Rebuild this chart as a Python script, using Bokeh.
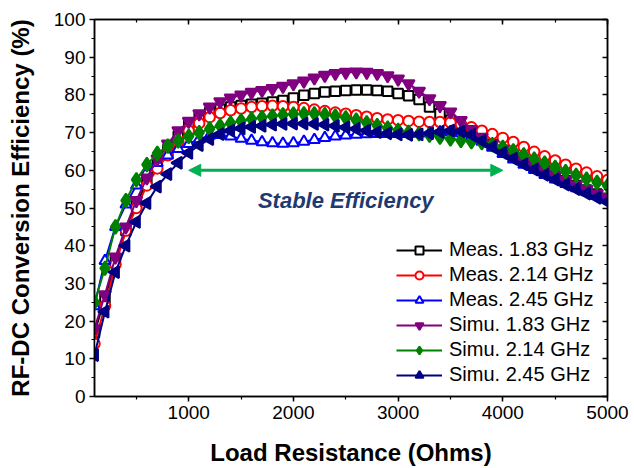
import math
from bokeh.plotting import figure
from bokeh.models import (LinearAxis, SingleIntervalTicker, Legend, LegendItem,
                          Arrow, NormalHead, Label, Range1d, CustomLabelingPolicy)
from bokeh.embed import file_html
from bokeh.resources import INLINE

# ---------------- data ----------------
load_ohm = [100, 200, 300, 400, 500, 600, 700, 800, 900, 1000,
            1100, 1200, 1300, 1400, 1500, 1600, 1700, 1800, 1900, 2000,
            2100, 2200, 2300, 2400, 2500, 2600, 2700, 2800, 2900, 3000,
            3100, 3200, 3300, 3400, 3500, 3600, 3700, 3800, 3900, 4000,
            4100, 4200, 4300, 4400, 4500, 4600, 4700, 4800, 4900, 5000]

meas_183 = [17, 26, 36, 44, 51, 57, 61.5, 65.5, 69, 72,
            74, 75.3, 76.2, 76.8, 77.2, 77.5, 77.8, 78.1, 78.5, 79.2,
            79.9, 80.4, 80.8, 81.0, 81.2, 81.3, 81.3, 81.2, 81.0, 80.4,
            79.8, 78.8, 76.8, 75.0, 73.3, 71.5, 69.8, 68.3, 66.8, 65.3,
            63.9, 62.5, 61.1, 59.8, 58.5, 57.2, 56.0, 54.8, 53.7, 52.6]

meas_214 = [14, 24, 35, 44, 50, 56, 60.5, 64, 67.5, 70.5,
            72.5, 74.1, 75.2, 75.9, 76.4, 76.8, 77.0, 77.1, 77.0, 76.8,
            76.5, 76.1, 75.7, 75.3, 75.0, 74.6, 74.2, 73.8, 73.5, 73.3,
            73.1, 72.9, 72.8, 72.8, 72.7, 72.2, 71.4, 70.5, 69.6, 68.6,
            67.5, 66.2, 64.9, 63.7, 62.6, 61.5, 60.4, 59.4, 58.4, 57.4]

meas_245 = [24, 36, 45, 51, 56, 59.5, 62, 64, 65.7, 67,
            68.3, 69.2, 69.4, 69.0, 68.4, 67.9, 67.5, 67.2, 67.1, 67.2,
            67.6, 68.1, 68.6, 69.0, 69.3, 69.5, 69.6, 69.7, 69.7, 69.7,
            69.7, 69.8, 69.9, 70.1, 70.2, 69.9, 69.0, 67.6, 66.0, 64.4,
            62.9, 61.5, 60.1, 58.8, 57.6, 56.4, 55.3, 54.2, 53.2, 52.3]

simu_183 = [18, 27, 37, 45, 52, 58, 63, 67, 70.5, 73,
            75, 76.8, 78.2, 79.2, 80, 80.7, 81.2, 81.7, 82.3, 83.0,
            83.7, 84.5, 85.2, 85.7, 86.0, 86.1, 86.0, 85.7, 85.1, 84.2,
            83.0, 81.0, 79.0, 77.2, 75.5, 73.2, 70.8, 68.8, 67.0, 65.4,
            63.9, 62.5, 61.2, 59.9, 58.6, 57.3, 56.1, 54.9, 53.8, 52.8]

simu_214 = [25, 34, 45, 52, 57.5, 61.5, 64.5, 66.4, 67.8, 69,
            70, 71, 71.8, 72.5, 73.1, 73.6, 74.0, 74.4, 74.7, 74.9,
            75.0, 75.0, 74.8, 74.4, 73.9, 73.3, 72.6, 71.9, 71.2, 70.6,
            70.1, 69.7, 69.3, 68.8, 68.3, 67.9, 67.6, 67.3, 66.8, 66.1,
            65.2, 64.1, 63.0, 61.9, 60.8, 59.7, 58.7, 57.7, 56.8, 55.9]

simu_245 = [11, 22.5, 33, 40, 46.3, 51.3, 55.7, 59, 62, 64.6,
            66.7, 68.3, 69.6, 70.5, 71.1, 71.5, 71.8, 72.1, 72.3, 72.4,
            72.4, 72.3, 72.1, 71.8, 71.4, 71.0, 70.5, 70.1, 69.8, 69.5,
            69.4, 69.5, 69.8, 70.2, 70.5, 70.3, 69.4, 67.8, 66.2, 64.6,
            63.1, 61.6, 60.2, 58.8, 57.5, 56.2, 55.0, 53.8, 52.7, 51.6]

labels = ["Meas. 1.83 GHz", "Meas. 2.14 GHz", "Meas. 2.45 GHz",
          "Simu. 1.83 GHz", "Simu. 2.14 GHz", "Simu. 2.45 GHz"]

arrow_x = [1000, 4000]
arrow_y = 60
note_text = "Stable Efficiency"
note_x, note_y = 2500, 52

# ---------------- figure ----------------
FONT = "Liberation Sans"

p = figure(width=634, height=468, output_backend="svg", toolbar_location=None,
           x_range=Range1d(100, 5000), y_range=Range1d(0, 100),
           min_border_left=94, min_border_right=27, min_border_top=19,
           min_border_bottom=71, background_fill_color="white",
           border_fill_color="white")
p.xgrid.visible = False
p.ygrid.visible = False
p.outline_line_color = "black"
p.outline_line_width = 1.5

p.xaxis.ticker = SingleIntervalTicker(interval=1000, num_minor_ticks=2)
p.yaxis.ticker = SingleIntervalTicker(interval=10, num_minor_ticks=2)

for ax in (p.xaxis[0], p.yaxis[0]):
    ax.axis_line_width = 1.5
    ax.major_tick_line_width = 1.5
    ax.minor_tick_line_width = 1.2
    ax.major_tick_in = 0
    ax.major_tick_out = 5
    ax.minor_tick_in = 0
    ax.minor_tick_out = 3
    ax.major_label_text_font = FONT
    ax.major_label_text_font_size = "19px"
    ax.major_label_text_color = "black"
    ax.axis_label_text_font = FONT
    ax.axis_label_text_font_size = "24px"
    ax.axis_label_text_font_style = "bold"
    ax.axis_label_text_color = "black"
    ax.major_label_standoff = 4

p.xaxis.axis_label = "Load Resistance (Ohms)"
p.yaxis.axis_label = "RF-DC Conversion Efficiency (%)"
p.xaxis.axis_label_standoff = 17
p.yaxis.axis_label_standoff = 17

# mirrored axes (ticks inward, no labels)
top = LinearAxis(ticker=SingleIntervalTicker(interval=1000, num_minor_ticks=2),
                 major_label_policy=CustomLabelingPolicy(code="return []"))
right = LinearAxis(ticker=SingleIntervalTicker(interval=10, num_minor_ticks=2),
                   major_label_policy=CustomLabelingPolicy(code="return []"))
for ax in (top, right):
    ax.axis_line_width = 1.5
    ax.major_tick_line_width = 1.5
    ax.minor_tick_line_width = 1.2
    ax.major_tick_in = 5
    ax.major_tick_out = 0
    ax.minor_tick_in = 3
    ax.minor_tick_out = 0
    ax.major_label_standoff = 0
p.add_layout(top, "above")
p.add_layout(right, "right")

# ---------------- series ----------------
series = [
    (meas_183, "black",   "square",            "white",   9.5, 0.0),
    (meas_214, "#FF0000", "circle",            "white",   10.5, 0.0),
    (meas_245, "#0000FF", "triangle",          "white",   11, 0.0),
    (simu_183, "#800080", "inverted_triangle", "#800080", 12, 0.0),
    (simu_214, "#008000", "diamond",           "#008000", 14, 0.0),
    (simu_245, "#000080", "triangle",          "#000080", 12, math.pi / 2),
]

items = []
for (vals, col, mk, fill, sz, ang), lab in zip(series, labels):
    ln = p.line(load_ohm, vals, line_color=col, line_width=2)
    sc = p.scatter(load_ohm, vals, marker=mk, size=sz, angle=ang,
                   line_color=col, fill_color=fill, line_width=2)
    items.append(LegendItem(label=lab, renderers=[ln, sc]))

legend = Legend(items=items, location=(302, 10),
                border_line_alpha=0, background_fill_alpha=0,
                label_text_font=FONT, label_text_font_size="20px",
                label_text_color="black",
                glyph_width=46, glyph_height=20, label_height=20,
                spacing=2, padding=0, margin=0, label_standoff=7)
p.add_layout(legend)

# ---------------- annotation ----------------
arrow_col = "#00B050"
p.add_layout(Arrow(start=NormalHead(size=12, fill_color=arrow_col, line_color=arrow_col),
                   end=NormalHead(size=12, fill_color=arrow_col, line_color=arrow_col),
                   x_start=arrow_x[0], y_start=arrow_y, x_end=arrow_x[1], y_end=arrow_y,
                   line_color=arrow_col, line_width=3))
p.add_layout(Label(x=note_x, y=note_y, text=note_text, text_font=FONT,
                   text_font_style="bold italic", text_font_size="22px",
                   text_color="#1F3A70", text_align="center",
                   text_baseline="middle"))

open("out.html", "w").write(file_html(p, INLINE))
